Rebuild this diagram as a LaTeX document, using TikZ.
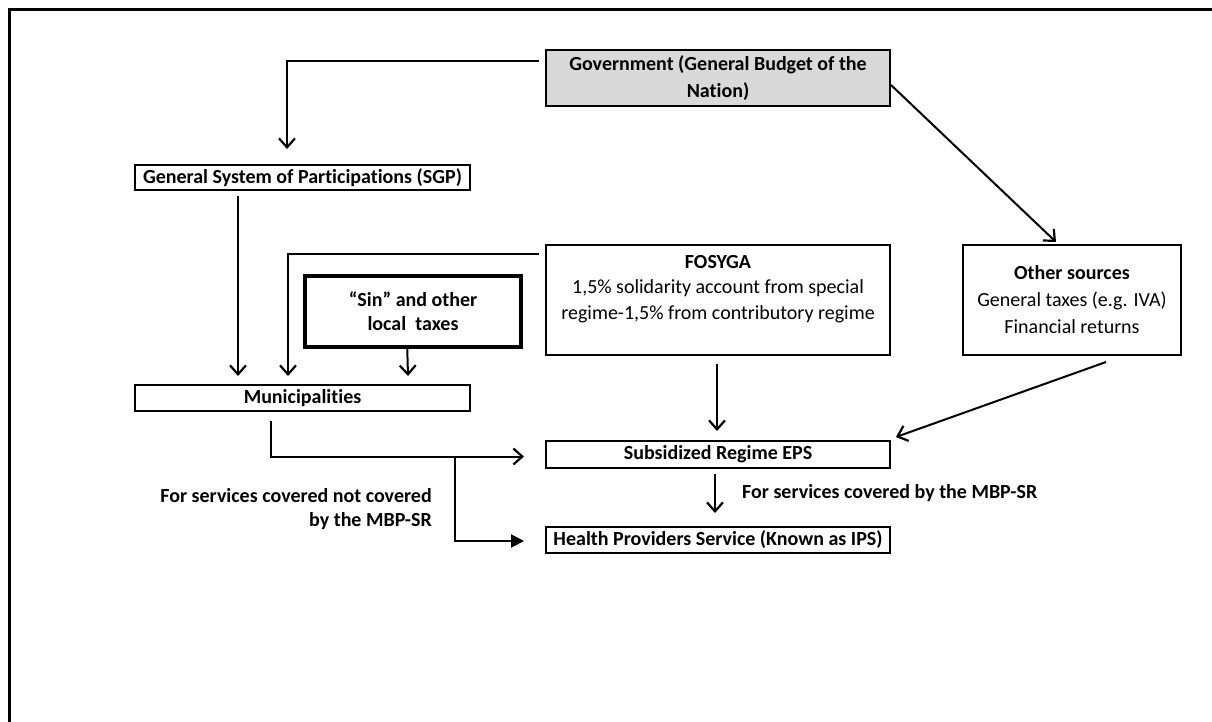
\documentclass[tikz,border=0pt]{standalone}
\usepackage{fontspec}
\setmainfont{Carlito}[Ligatures=NoCommon]
\usetikzlibrary{arrows.meta,calc}
\begin{document}
\begin{tikzpicture}[x=1pt,y=-1pt,
  box/.style={draw=black,line width=2pt,rectangle,inner sep=0pt,align=center,font=\fontsize{20}{27}\selectfont\bfseries},
  conn/.style={draw=black,line width=2pt,-{Straight Barb[length=9pt,width=16pt,line width=2.2pt]}},
  connf/.style={draw=black,line width=2pt,-{Triangle[length=13pt,width=13pt]}},
  lbl/.style={font=\fontsize{20}{24}\selectfont\bfseries,inner sep=0pt}]
\useasboundingbox (0,0) rectangle (1212,721);
\draw[line width=3pt] (9.5,730) -- (9.5,9.5) -- (1220,9.5);

\node[box,fill=black!15,minimum width=344pt,minimum height=56pt] (gov) at (718,78)
  {Government (General Budget of the\\Nation)};
\node[box,minimum width=335pt,minimum height=25pt] (sgp) at (302.5,177.5)
  {General System of Participations (SGP)};
\node[box,line width=3.5pt,minimum width=216pt,minimum height=71pt,font=\fontsize{20}{24}\selectfont\bfseries] (sin) at (413,311.5)
  {``Sin'' and other\\local\ \ taxes};
\node[box,minimum width=344pt,minimum height=110pt] (fos) at (718,300) {};
\node[inner sep=0pt,align=center,font=\fontsize{20}{25.5}\selectfont,anchor=north] (fostext) at ($(fos.north)+(0,11)$)
  {\textbf{FOSYGA}\\1,5\% solidarity account from special\\regime-1,5\% from contributory regime};
\node[box,minimum width=218pt,minimum height=110pt,font=\fontsize{20}{27}\selectfont] (oth) at (1072,300)
  {\textbf{Other sources}\\General taxes (e.g. IVA)\\Financial returns};
\node[box,minimum width=335pt,minimum height=26pt] (mun) at (302.5,398)
  {Municipalities};
\node[box,minimum width=344pt,minimum height=27pt] (sub) at (718,454.5)
  {Subsidized Regime EPS};
\node[box,minimum width=344pt,minimum height=26pt] (hps) at (718,540)
  {Health Providers Service (Known as IPS)};

\node[lbl,align=right,anchor=east] (lblnot) at (432,509)
  {For services covered not covered\\by the MBP-SR};
\node[lbl,anchor=west] (lblcov) at (742,493) {For services covered by the MBP-SR};

\draw[conn] ($(gov.north west)+(-6,12)$) -| ($(sgp.north west)+(153,-15)$);
\draw[conn] ($(gov.east)+(0,7)$) -- ($(oth.north west)+(94,-2)$);
\draw[conn] ($(sgp.south west)+(104,5)$) -- ($(mun.north west)+(104,-8)$);
\draw[conn] ($(fos.north west)+(-6,10)$) -| ($(mun.north west)+(154,-8)$);
\draw[conn] ($(sin.south west)+(104,0)$) -- ($(mun.north west)+(274,-8)$);
\draw[conn] ($(mun.south west)+(137,9)$) |- ($(sub.west)+(-21,2)$);
\draw[connf] ($(sub.west)+(-90,2)$) |- ($(hps.west)+(-21,1)$);
\draw[conn] ($(fos.south)+(-1,8)$) -- ($(sub.north)+(-1,-9)$);
\draw[conn] ($(oth.south west)+(144,6)$) -- ($(sub.north east)+(5,-3)$);
\draw[conn] ($(sub.south)+(-3,5)$) -- ($(hps.north)+(-3,-13)$);
\end{tikzpicture}
\end{document}
